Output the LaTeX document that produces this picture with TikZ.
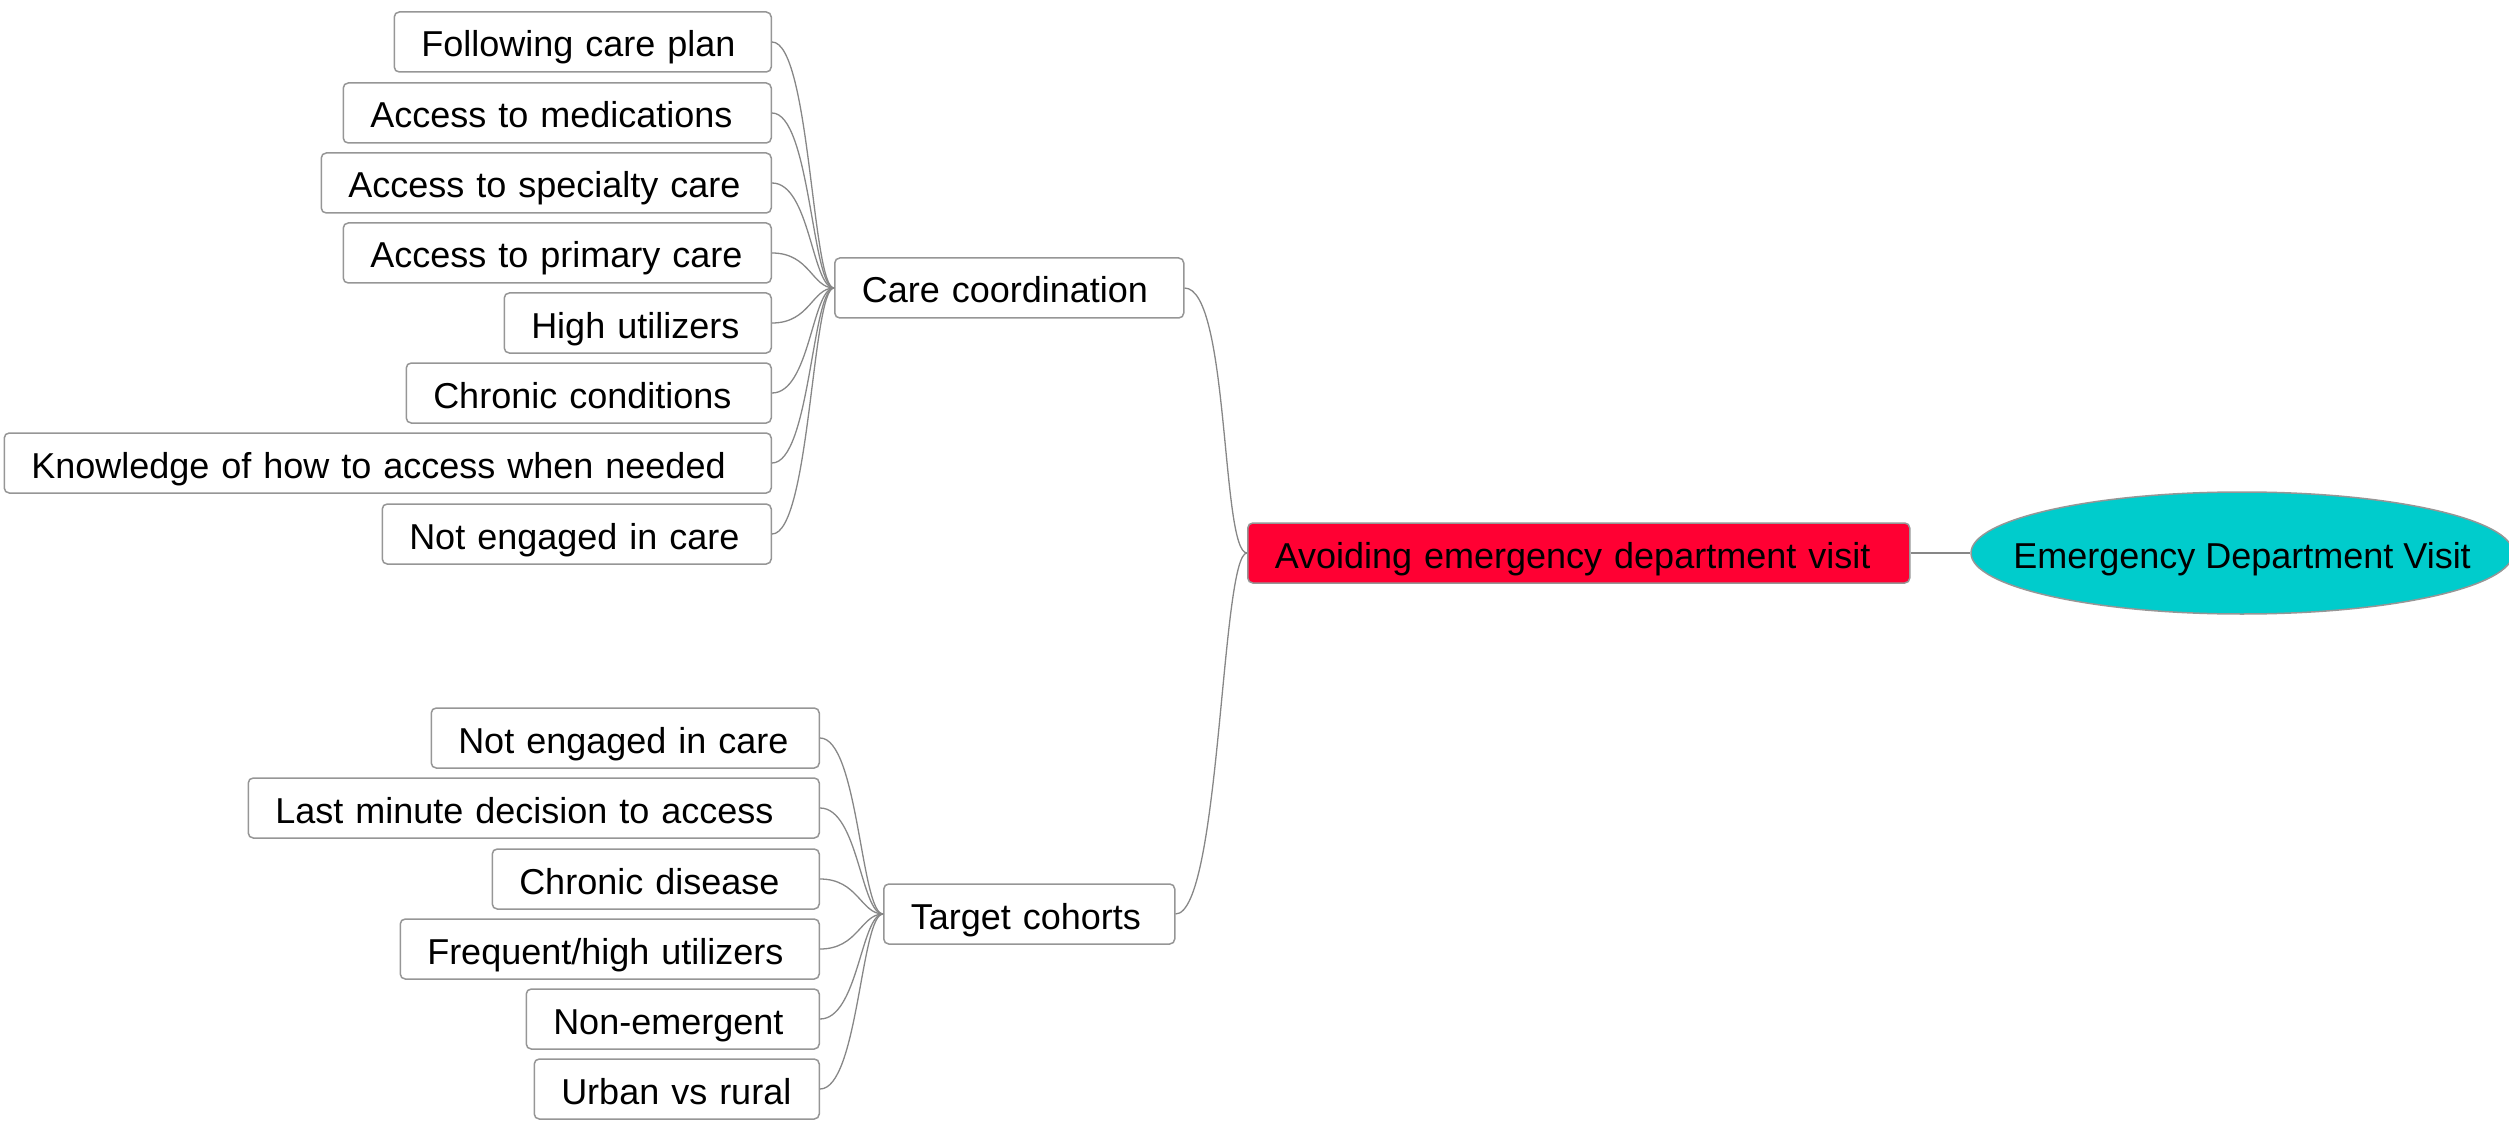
\documentclass[tikz,border=0pt]{standalone}
\usepackage{fontspec}
\setmainfont{Liberation Sans}
\usetikzlibrary{shapes.geometric}
\definecolor{edgegray}{RGB}{135,135,135}
\definecolor{boxgray}{RGB}{150,150,150}
\definecolor{rootred}{RGB}{255,0,51}
\definecolor{cyanfill}{RGB}{0,204,204}
\begin{document}
\begin{tikzpicture}[x=1pt,y=-1pt,
  every node/.style={font=\fontsize{36}{43}\selectfont},
  box/.style={draw=boxgray, line width=1.5pt, rounded corners=5pt, fill=white,
    inner xsep=27pt, inner ysep=0pt, minimum height=60pt,
    text height=30pt, text depth=0pt, align=left},
  link/.style={draw=edgegray, line width=1.3pt}]
\useasboundingbox (0,0) rectangle (2509,1123);

% root and main topic
\node[box, anchor=west, fill=rootred, text width=608pt] (root) at (1247,553) {\mbox{Avoiding emergency department visit}};
\node[ellipse, draw=boxgray, line width=1.5pt, fill=cyanfill, minimum width=542pt, minimum height=122pt,
  inner sep=0pt, text height=30pt, text depth=0pt] (ed) at (2242,553) {\makebox[0pt]{Emergency Department Visit}};

% branches
\node[box, anchor=west, text width=295pt] (cc) at (834,288) {\mbox{Care coordination}};
\node[box, anchor=west, text width=237pt] (tc) at (883,914) {\mbox{Target cohorts}};

% care coordination children
\node[box, anchor=east, text width=323pt] (c1) at (772,42)  {\mbox{Following care plan}};
\node[box, anchor=east, text width=374pt] (c2) at (772,113) {\mbox{Access to medications}};
\node[box, anchor=east, text width=396pt] (c3) at (772,183) {\mbox{Access to specialty care}};
\node[box, anchor=east, text width=374pt] (c4) at (772,253) {\mbox{Access to primary care}};
\node[box, anchor=east, text width=213pt] (c5) at (772,323) {\mbox{High utilizers}};
\node[box, anchor=east, text width=311pt] (c6) at (772,393) {\mbox{Chronic conditions}};
\node[box, anchor=east, text width=713pt] (c7) at (772,463) {\mbox{Knowledge of how to access when needed}};
\node[box, anchor=east, text width=335pt] (c8) at (772,534) {\mbox{Not engaged in care}};

% target cohorts children
\node[box, anchor=east, text width=334pt] (t1) at (820,738)  {\mbox{Not engaged in care}};
\node[box, anchor=east, text width=517pt] (t2) at (820,808)  {\mbox{Last minute decision to access}};
\node[box, anchor=east, text width=273pt] (t3) at (820,879)  {\mbox{Chronic disease}};
\node[box, anchor=east, text width=365pt] (t4) at (820,949)  {\mbox{Frequent/high utilizers}};
\node[box, anchor=east, text width=239pt] (t5) at (820,1019) {\mbox{Non-emergent}};
\node[box, anchor=east, text width=231pt] (t6) at (820,1089) {\mbox{Urban vs rural}};

% connectors
\draw[link] (root.east) -- (ed.west);
\draw[link] (cc.east) .. controls +(45,0) and +(-26,0) .. (root.west);
\draw[link] (tc.east) .. controls +(45,0) and +(-26,0) .. (root.west);
\foreach \n in {c1,c2,c3,c4,c5,c6,c7,c8}
  \draw[link] (\n.east) .. controls +(38,0) and +(-22,0) .. (cc.west);
\foreach \n in {t1,t2,t3,t4,t5,t6}
  \draw[link] (\n.east) .. controls +(38,0) and +(-22,0) .. (tc.west);
\end{tikzpicture}
\end{document}
